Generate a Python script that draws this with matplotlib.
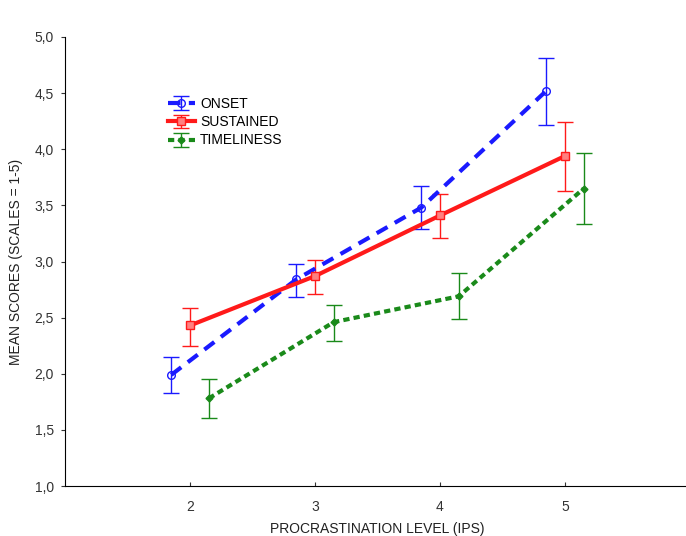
import matplotlib
matplotlib.use('Agg')
import matplotlib.pyplot as plt
from matplotlib.ticker import FuncFormatter

plt.rcParams['font.family'] = ['Liberation Sans', 'DejaVu Sans']

levels = [2, 3, 4, 5]

onset = [1.99, 2.84, 3.48, 4.52]
onset_lo = [1.83, 2.68, 3.29, 4.22]
onset_hi = [2.15, 2.98, 3.67, 4.81]

sustained = [2.43, 2.87, 3.41, 3.94]
sustained_lo = [2.25, 2.71, 3.21, 3.63]
sustained_hi = [2.59, 3.01, 3.60, 4.24]

timeliness = [1.78, 2.46, 2.69, 3.65]
timeliness_lo = [1.61, 2.29, 2.49, 3.33]
timeliness_hi = [1.95, 2.61, 2.90, 3.97]

OFFSET = 0.15

fig = plt.figure(figsize=(6.86, 5.36), dpi=100)
ax = fig.add_axes([65 / 686, 50 / 536, 625 / 686, 449 / 536])


def draw(vals, lo, hi, shift, color, ls, marker, ms, mfc, label):
    x = [v + shift for v in levels]
    err = [[v - l for v, l in zip(vals, lo)], [h - v for v, h in zip(vals, hi)]]
    return ax.errorbar(x, vals, yerr=err, color=color, linestyle=ls, lw=3,
                       marker=marker, ms=ms, mfc=mfc, mec=color, mew=1,
                       ecolor=color, elinewidth=1, capsize=6, capthick=1,
                       label=label)


draw(onset, onset_lo, onset_hi, -OFFSET, '#1a1aff', (0, (3, 2)), 'o', 5.5, 'none', 'ONSET')
draw(sustained, sustained_lo, sustained_hi, 0, '#ff1a1a', '-', 's', 5.5, '#ff8080', 'SUSTAINED')
draw(timeliness, timeliness_lo, timeliness_hi, OFFSET, '#1a8a1a', (0, (1.5, 1)), 'D', 3.5, '#1a8a1a', 'TIMELINESS')

ax.set_xlim(1, 6)
ax.set_ylim(1, 5)
ax.set_xticks(levels)
ax.set_yticks([1.0, 1.5, 2.0, 2.5, 3.0, 3.5, 4.0, 4.5, 5.0])
ax.yaxis.set_major_formatter(FuncFormatter(lambda v, p: f'{v:.1f}'.replace('.', ',')))
ax.spines['top'].set_visible(False)
ax.spines['right'].set_visible(False)
ax.tick_params(axis='x', direction='in', length=3, labelsize=10, pad=10, colors='#333333')
ax.tick_params(axis='y', direction='out', length=3, labelsize=10, pad=5, colors='#333333')
ax.set_xlabel('PROCRASTINATION LEVEL (IPS)', fontsize=10, labelpad=6, color='#222222')
ax.set_ylabel('MEAN SCORES (SCALES = 1-5)', fontsize=10, labelpad=8, color='#222222')

ax.legend(loc='upper left', bbox_to_anchor=(0.165, 0.866), frameon=False,
          fontsize=10, handlelength=1.9, handletextpad=0.4, labelspacing=0.3,
          borderpad=0, borderaxespad=0)

fig.savefig('out.png', dpi=100)
